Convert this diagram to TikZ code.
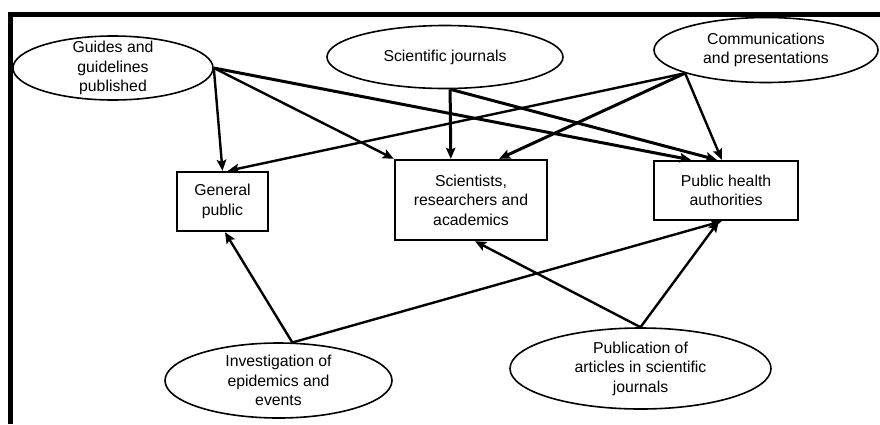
\documentclass[tikz,border=0pt]{standalone}
\usepackage{fontspec}
\setmainfont{Liberation Sans}
\usetikzlibrary{shapes.geometric,arrows.meta}
\newcommand\dgfont{\fontsize{15.8}{19.5}\selectfont}
\begin{document}
\begin{tikzpicture}[x=1pt,y=-1pt,
  ell/.style={draw, ellipse, line width=1.6pt, inner sep=0pt},
  box/.style={draw, rectangle, line width=2.4pt, inner sep=0pt, align=center, font=\dgfont},
  lbl/.style={align=center, font=\dgfont, inner sep=0pt},
  conn/.style={line width=2.4pt, -{Stealth[length=11pt,width=9.5pt,inset=2pt]}},
  thick conn/.style={conn, line width=3pt}]
\useasboundingbox (0,0) rectangle (880,424);
% frame
\draw[line width=5pt] (10.5,424) -- (10.5,14.5) -- (880,14.5);
% source ellipses
\node[ell, minimum width=200pt, minimum height=64pt] (guides) at (113,68) {};
\node[lbl] (guidesT) at (guides.center) {Guides and\\guidelines\\published};
\node[ell, minimum width=236pt, minimum height=63pt] (sj) at (445,57) {};
\node[lbl] (sjT) at (sj.center) {Scientific journals};
\node[ell, minimum width=224pt, minimum height=65pt] (comm) at (766,50) {};
\node[lbl] (commT) at (comm.center) {Communications\\and presentations};
\node[ell, minimum width=227pt, minimum height=75pt] (inv) at (278.5,380.5) {};
\node[lbl] (invT) at (inv.center) {Investigation of\\epidemics and\\events};
\node[ell, minimum width=261pt, minimum height=81pt] (pub) at (640.5,368.5) {};
\node[lbl] (pubT) at (pub.center) {Publication of\\articles in scientific\\journals};
% audience boxes
\node[box, minimum width=91pt, minimum height=59pt] (gp) at (222.5,201.5) {General\\public};
\node[box, minimum width=152pt, minimum height=80pt] (sci) at (471,200) {Scientists,\\researchers and\\academics};
\node[box, minimum width=144pt, minimum height=59pt] (ph) at (726,190.5) {Public health\\authorities};
% connectors
\draw[conn] (guides.east) -- (gp.north);
\draw[conn] (guides.east) -- (sci.north west);
\draw[thick conn] (guides.east) -- ([xshift=38pt]ph.north west);
\draw[thick conn] (sj.-81) -- ([xshift=57pt]sci.north west);
\draw[thick conn] (sj.-81) -- ([xshift=64pt]ph.north west);
\draw[conn] (comm.196) -- ([xshift=5.5pt]gp.north);
\draw[thick conn] (comm.196) -- ([xshift=-49pt]sci.north east);
\draw[conn] (comm.196) -- ([xshift=69pt]ph.north west);
\draw[conn] (inv.70) -- ([xshift=2.5pt]gp.south);
\draw[conn] (inv.70) -- ([xshift=69pt]ph.south west);
\draw[conn] (pub.north) -- ([xshift=4pt]sci.south);
\draw[conn] (pub.north) -- ([xshift=66pt]ph.south west);
\end{tikzpicture}
\end{document}
